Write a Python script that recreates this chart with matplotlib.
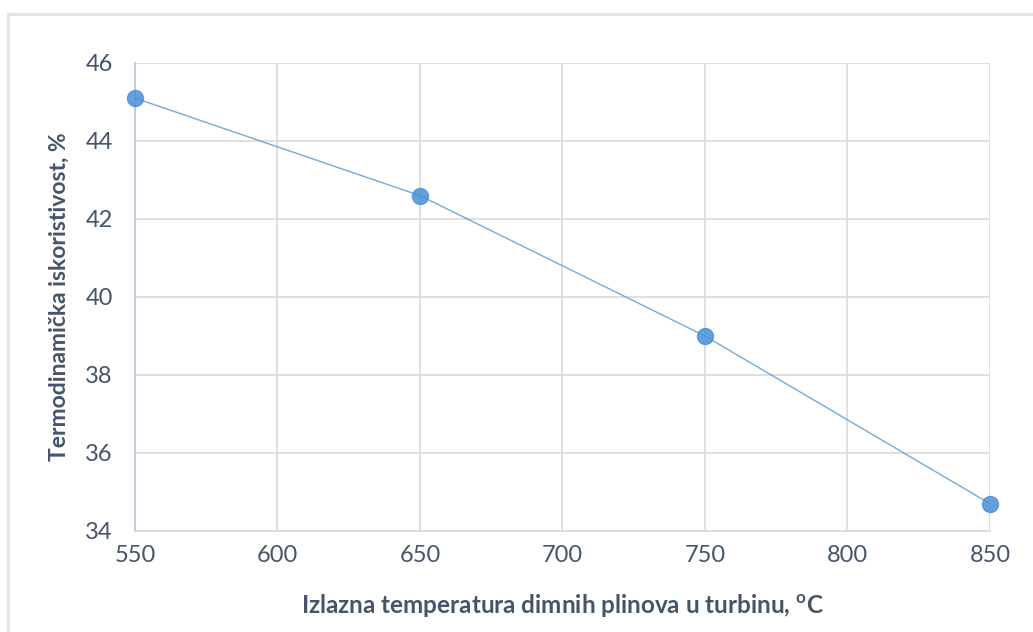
import matplotlib
matplotlib.use("Agg")
import matplotlib.pyplot as plt
from matplotlib.lines import Line2D

# data
temperatura = [550, 650, 750, 850]
iskoristivost = [45.1, 42.6, 39.0, 34.7]
x_ticks = [550, 600, 650, 700, 750, 800, 850]
y_ticks = [34, 36, 38, 40, 42, 44, 46]

plt.rcParams['font.family'] = ['Lato', 'DejaVu Sans']

text_col = '#44546a'
grid_col = '#d9d9d9'
line_col = '#5b9bd5'

fig = plt.figure(figsize=(10.33, 6.32), dpi=100)
ax = fig.add_axes([135 / 1033, 1 - 531 / 632, 855 / 1033, 468 / 632])

ax.plot(temperatura, iskoristivost, color=line_col, linewidth=1.0, alpha=0.85,
        marker='o', markersize=11.5, markerfacecolor='#4a90d9',
        markeredgecolor='#4a90d9', clip_on=False, zorder=3)

ax.set_xlim(550, 850)
ax.set_ylim(34, 46)
ax.set_xticks(x_ticks)
ax.set_yticks(y_ticks)
ax.grid(True, color=grid_col, linewidth=1.2)
ax.set_axisbelow(True)

for side in ['top', 'right']:
    ax.spines[side].set_visible(False)
ax.spines['left'].set_color('#b8c6d8')
ax.spines['left'].set_linewidth(1.2)
ax.spines['bottom'].set_color(grid_col)
ax.spines['bottom'].set_linewidth(1.2)

ax.tick_params(length=0, labelsize=17, labelcolor=text_col, pad=10)
ax.tick_params(axis='y', pad=16)

ax.set_xlabel(r'Izlazna temperatura dimnih plinova u turbinu, $^{\mathregular{o}}$C',
              fontsize=17.5, fontweight='bold', color=text_col, labelpad=19)
ax.set_ylabel('Termodinamička iskoristivost, %', fontsize=16.5,
              fontweight='bold', color=text_col, labelpad=11)

# outer chart frame (top and left edges visible)
frame_col = '#dde3ea'
fig.add_artist(Line2D([8 / 1033, 1.0], [1 - 14 / 632, 1 - 14 / 632],
                      transform=fig.transFigure, color=frame_col, linewidth=2))
fig.add_artist(Line2D([8 / 1033, 8 / 1033], [0.0, 1 - 14 / 632],
                      transform=fig.transFigure, color=frame_col, linewidth=2))

fig.savefig('out.png', dpi=100)
